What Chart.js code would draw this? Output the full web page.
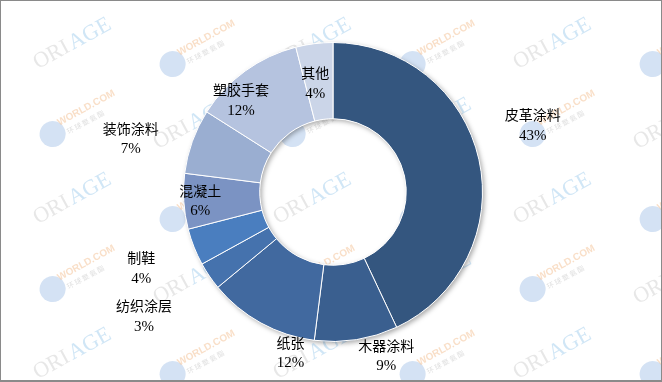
<!DOCTYPE html>
<html>
<head>
<meta charset="utf-8">
<script src="https://cdn.jsdelivr.net/npm/chart.js@4/dist/chart.umd.min.js"></script>
<style>
  html, body { margin: 0; padding: 0; background: #fff; }
  canvas { display: block; }
</style>
</head>
<body>
<canvas id="doughnutChart" width="662" height="382"></canvas>
<script>
// data
const categories = ['皮革涂料', '木器涂料', '纸张', '纺织涂层', '制鞋', '混凝土', '装饰涂料', '塑胶手套', '其他'];
const shares = [43, 9, 12, 3, 4, 6, 7, 12, 4];
const sliceColors = ['#34567f', '#3a5f8f', '#41699f', '#4572ad', '#4a7ebf', '#7b93c3', '#9aaed1', '#b5c3df', '#cbd5e8'];

// label placement: distance from centre (x outer radius) and angle nudge (degrees)
const labelRadius = [1.41, 1.15, 1.11, 1.51, 1.38, 0.89, 1.40, 0.87, 0.74];
const labelNudge = [-6, -9, -14, 1, 0, 0, -5, -9, -2];

// tiled watermark of the source image
function drawWatermarks(ctx) {
    ctx.save();
    for (let col = 0; col < 6; col++) {
        const x = 70 + col * 120;
        const odd = col % 2 === 1;
        for (let row = 0; row < 3; row++) {
            const yText = (odd ? 125 : 45) + row * 155;
            const yLogo = (odd ? 50 : 120) + row * 155;
            // ORIAGE text
            ctx.save();
            ctx.translate(x, yText);
            ctx.rotate(-0.5);
            ctx.font = '22px "Liberation Serif"';
            ctx.textBaseline = 'middle';
            ctx.fillStyle = 'rgba(185,185,185,0.35)';
            ctx.fillText('ORI', -40, 0);
            ctx.fillStyle = 'rgba(150,200,235,0.45)';
            ctx.fillText('AGE', 0, 0);
            ctx.restore();
            // WORLD.COM logo
            ctx.save();
            ctx.translate(x, yLogo);
            ctx.rotate(-0.5);
            ctx.fillStyle = 'rgba(120,165,220,0.32)';
            ctx.beginPath();
            ctx.arc(-22, 4, 13, 0, Math.PI * 2);
            ctx.fill();
            ctx.font = 'bold 10px "Liberation Sans"';
            ctx.fillStyle = 'rgba(240,170,110,0.38)';
            ctx.fillText('WORLD.COM', -12, 0);
            ctx.font = '7px "Noto Sans CJK SC"';
            ctx.fillStyle = 'rgba(170,170,170,0.38)';
            ctx.fillText('环 球 聚 氨 酯', -8, 12);
            ctx.restore();
        }
    }
    ctx.restore();
}

const decorPlugin = {
    id: 'decor',
    beforeDatasetsDraw(chart) {
        const ctx = chart.ctx;
        drawWatermarks(ctx);
        const arc = chart.getDatasetMeta(0).data[0];
        if (!arc) return;
        // soft shadow under the ring
        ctx.save();
        ctx.shadowColor = 'rgba(0,0,0,0.35)';
        ctx.shadowBlur = 5;
        ctx.shadowOffsetX = 2;
        ctx.shadowOffsetY = 2;
        ctx.fillStyle = '#ffffff';
        ctx.beginPath();
        ctx.arc(arc.x, arc.y, arc.outerRadius, 0, Math.PI * 2);
        ctx.arc(arc.x, arc.y, arc.innerRadius, 0, Math.PI * 2, true);
        ctx.fill();
        ctx.restore();
    },
    afterDatasetsDraw(chart) {
        const ctx = chart.ctx;
        const meta = chart.getDatasetMeta(0);
        ctx.save();
        ctx.fillStyle = '#000';
        ctx.textAlign = 'center';
        ctx.textBaseline = 'middle';
        meta.data.forEach((el, i) => {
            const a = (el.startAngle + el.endAngle) / 2 + labelNudge[i] * Math.PI / 180;
            const r = el.outerRadius * labelRadius[i];
            const x = el.x + Math.cos(a) * r;
            const y = el.y + Math.sin(a) * r;
            ctx.font = '14px "Noto Sans CJK SC"';
            ctx.fillText(categories[i], x, y - 10);
            ctx.font = '15px "Liberation Serif"';
            ctx.fillText(shares[i] + '%', x, y + 11);
        });
        ctx.restore();
        // frame of the picture
        ctx.save();
        ctx.strokeStyle = '#8a8a8a';
        ctx.lineWidth = 1;
        ctx.strokeRect(0.5, 0.5, chart.width - 1, chart.height - 1);
        ctx.fillStyle = '#8a8a8a';
        ctx.fillRect(0, chart.height - 2, chart.width, 2);
        ctx.restore();
    }
};

const ctx = document.getElementById('doughnutChart').getContext('2d');

const doughnutChart = new Chart(ctx, {
    type: 'doughnut',
    data: {
        labels: categories,
        datasets: [{
            data: shares,
            backgroundColor: sliceColors,
            borderColor: '#ffffff',
            borderWidth: 1,
            hoverOffset: 0
        }]
    },
    options: {
        responsive: false,
        devicePixelRatio: 1,
        animation: false,
        cutout: '49%',
        layout: { padding: { top: 42, bottom: 40, left: 4, right: 0 } },
        plugins: {
            legend: { display: false },
            tooltip: { enabled: false }
        }
    },
    plugins: [decorPlugin]
});
</script>
</body>
</html>
